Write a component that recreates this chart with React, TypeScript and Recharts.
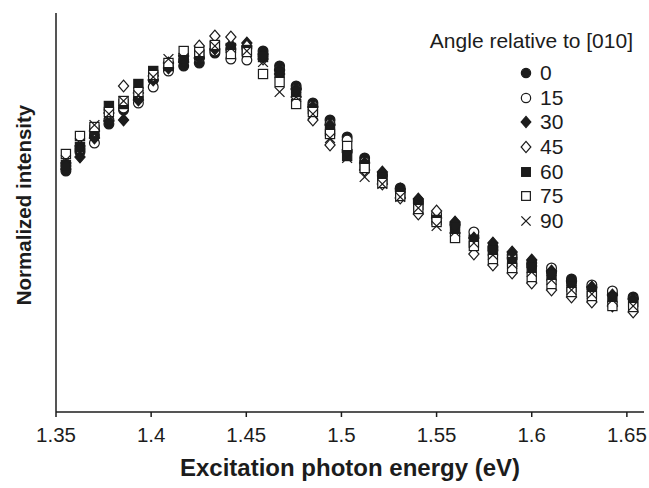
import { ScatterChart, Scatter, XAxis, YAxis } from "recharts";

// photon energies (eV), one column per 5 nm step
const energies = [
  1.3552, 1.3626, 1.3702, 1.3778, 1.3855, 1.3933, 1.4011, 1.4091, 1.4171, 1.4253,
  1.4335, 1.4419, 1.4503, 1.4588, 1.4675, 1.4762, 1.4850, 1.4940, 1.5030, 1.5122,
  1.5215, 1.5309, 1.5404, 1.5500, 1.5597, 1.5696, 1.5796, 1.5897, 1.6000, 1.6104,
  1.6209, 1.6316, 1.6424, 1.6533,
];

// intensity in arbitrary units
const angle0 = [241, 260, 276, 288, 302, 314, 332, 344, 346, 349, 359, 363, 364, 361, 346, 326, 309, 292, 275, 254, 237, 224, 211, 196, 188, 176, 165, 157, 149, 140, 133, 124, 118, 115];
const angle15 = [246, 263, 269, 292, 304, 309, 325, 341, 352, 354, 361, 353, 352, 356, 342, 323, 306, 288, 272, 250, 236, 221, 209, 198, 187, 180, 162, 154, 146, 144, 130, 127, 121, 113];
const angle30 = [243, 255, 274, 291, 292, 312, 332, 344, 350, 354, 363, 367, 369, 358, 342, 323, 305, 287, 260, 249, 240, 223, 213, 194, 190, 174, 169, 160, 152, 141, 131, 125, 117, 113];
const angle45 = [249, 266, 281, 299, 326, 319, 336, 349, 356, 366, 376, 375, 366, 353, 338, 315, 292, 267, 262, 242, 228, 214, 198, 201, 179, 158, 147, 139, 129, 122, 115, 110, 106, 100];
const angle60 = [247, 265, 282, 306, 308, 328, 341, 346, 354, 358, 366, 364, 362, 355, 339, 320, 303, 281, 256, 247, 234, 218, 207, 192, 184, 170, 161, 150, 144, 136, 125, 120, 114, 110];
const angle75 = [258, 276, 285, 300, 311, 320, 337, 349, 361, 360, 367, 358, 360, 338, 330, 308, 300, 278, 266, 244, 229, 216, 203, 190, 174, 166, 153, 144, 135, 128, 120, 116, 106, 105];
const angle90 = [252, 269, 287, 298, 311, 317, 335, 353, 354, 357, 366, 364, 361, 350, 320, 315, 298, 274, 254, 235, 228, 215, 204, 186, 180, 169, 157, 148, 140, 132, 122, 118, 112, 106];

const xTicks = [1.35, 1.4, 1.45, 1.5, 1.55, 1.6, 1.65];

const FONT = "'Liberation Sans', Arial, Helvetica, sans-serif";
const INK = "#1c1c1c";

type Kind = "circleFilled" | "circleOpen" | "diamondFilled" | "diamondOpen" | "squareFilled" | "squareOpen" | "cross";

const series: { name: string; values: number[]; kind: Kind }[] = [
  { name: "0", values: angle0, kind: "circleFilled" },
  { name: "15", values: angle15, kind: "circleOpen" },
  { name: "30", values: angle30, kind: "diamondFilled" },
  { name: "45", values: angle45, kind: "diamondOpen" },
  { name: "60", values: angle60, kind: "squareFilled" },
  { name: "75", values: angle75, kind: "squareOpen" },
  { name: "90", values: angle90, kind: "cross" },
];

function markerPath(kind: Kind, cx: number, cy: number, s = 1) {
  const open = kind.endsWith("Open");
  const fill = open ? "#fff" : INK;
  const sw = 1.2;
  if (kind.startsWith("circle")) {
    return <circle cx={cx} cy={cy} r={4.9 * s} fill={fill} stroke={INK} strokeWidth={sw} />;
  }
  if (kind.startsWith("diamond")) {
    const w = 5.1 * s, h = 5.9 * s;
    return (
      <polygon
        points={`${cx},${cy - h} ${cx + w},${cy} ${cx},${cy + h} ${cx - w},${cy}`}
        fill={fill}
        stroke={INK}
        strokeWidth={sw}
      />
    );
  }
  if (kind.startsWith("square")) {
    const h = 4.6 * s;
    return <rect x={cx - h} y={cy - h} width={2 * h} height={2 * h} fill={fill} stroke={INK} strokeWidth={sw} />;
  }
  const d = 4.9 * s;
  return (
    <g stroke={INK} strokeWidth={1.3}>
      <line x1={cx - d} y1={cy - d} x2={cx + d} y2={cy + d} />
      <line x1={cx - d} y1={cy + d} x2={cx + d} y2={cy - d} />
    </g>
  );
}

const makeShape = (kind: Kind) => (props: any) => {
  const { cx, cy } = props;
  if (cx == null || cy == null) return <g />;
  return markerPath(kind, cx, cy);
};

// legend drawn on top of the plot, top right
function AngleLegend() {
  return (
    <div style={{ position: "absolute", top: 27, left: 418, width: 222, fontFamily: FONT, color: INK }}>
      <div style={{ fontSize: 21, lineHeight: "28px", textAlign: "right", paddingRight: 7 }}>
        Angle relative to [010]
      </div>
      <div style={{ marginTop: 6 }}>
        {series.map((s) => (
          <div key={s.name} style={{ display: "flex", alignItems: "center", height: 24.6, paddingLeft: 101 }}>
            <svg width={14} height={14} style={{ marginRight: 7 }}>
              {markerPath(s.kind, 7, 7, 0.95)}
            </svg>
            <span style={{ fontSize: 21 }}>{s.name}</span>
          </div>
        ))}
      </div>
    </div>
  );
}

const YTitle = () => (
  <text
    x={23}
    y={205}
    transform="rotate(-90 23 205)"
    textAnchor="middle"
    dominantBaseline="central"
    fontSize={20.5}
    fontWeight="bold"
    fontFamily={FONT}
    fill={INK}
  >
    Normalized intensity
  </text>
);

export default function App() {
  const datasets = series.map((s) => ({
    ...s,
    data: energies.map((e, i) => ({ x: e, y: s.values[i] })),
  }));

  return (
    <div style={{ width: 649, height: 488, background: "#fff", position: "relative" }}>
      <style>{`body{margin:0}`}</style>
      <ScatterChart width={649} height={488} margin={{ top: 13, right: 5, bottom: 0, left: 0 }}>
        <XAxis
          type="number"
          dataKey="x"
          domain={[1.35, 1.659]}
          ticks={xTicks}
          allowDataOverflow
          tickFormatter={(v: number) => String(+v.toFixed(2))}
          tick={{ fill: INK, fontSize: 20.5, fontFamily: FONT, dy: 8 }}
          tickSize={5}
          stroke={INK}
          strokeWidth={1.5}
          height={76}
          label={{
            value: "Excitation photon energy (eV)",
            position: "insideBottom",
            offset: 12,
            style: { fontSize: 24, fontWeight: 700, fontFamily: FONT, fill: INK },
          }}
        />
        <XAxis xAxisId="top" orientation="top" type="number" domain={[1.35, 1.659]} tick={false} tickLine={false} stroke="#8a8a8a" height={0} />
        <YAxis
          type="number"
          dataKey="y"
          domain={[0, 399]}
          tick={false}
          tickLine={false}
          stroke={INK}
          strokeWidth={1.5}
          width={56}
        />
        <YAxis yAxisId="right" orientation="right" type="number" domain={[0, 399]} tick={false} tickLine={false} stroke="#8a8a8a" width={0} />
        {datasets.map((s) => (
          <Scatter
            key={s.name}
            name={s.name}
            data={s.data}
            shape={makeShape(s.kind)}
            isAnimationActive={false}
          />
        ))}
      </ScatterChart>
      <svg width={56} height={488} style={{ position: "absolute", left: 0, top: 0, pointerEvents: "none" }}>
        <YTitle />
      </svg>
      <AngleLegend />
    </div>
  );
}
